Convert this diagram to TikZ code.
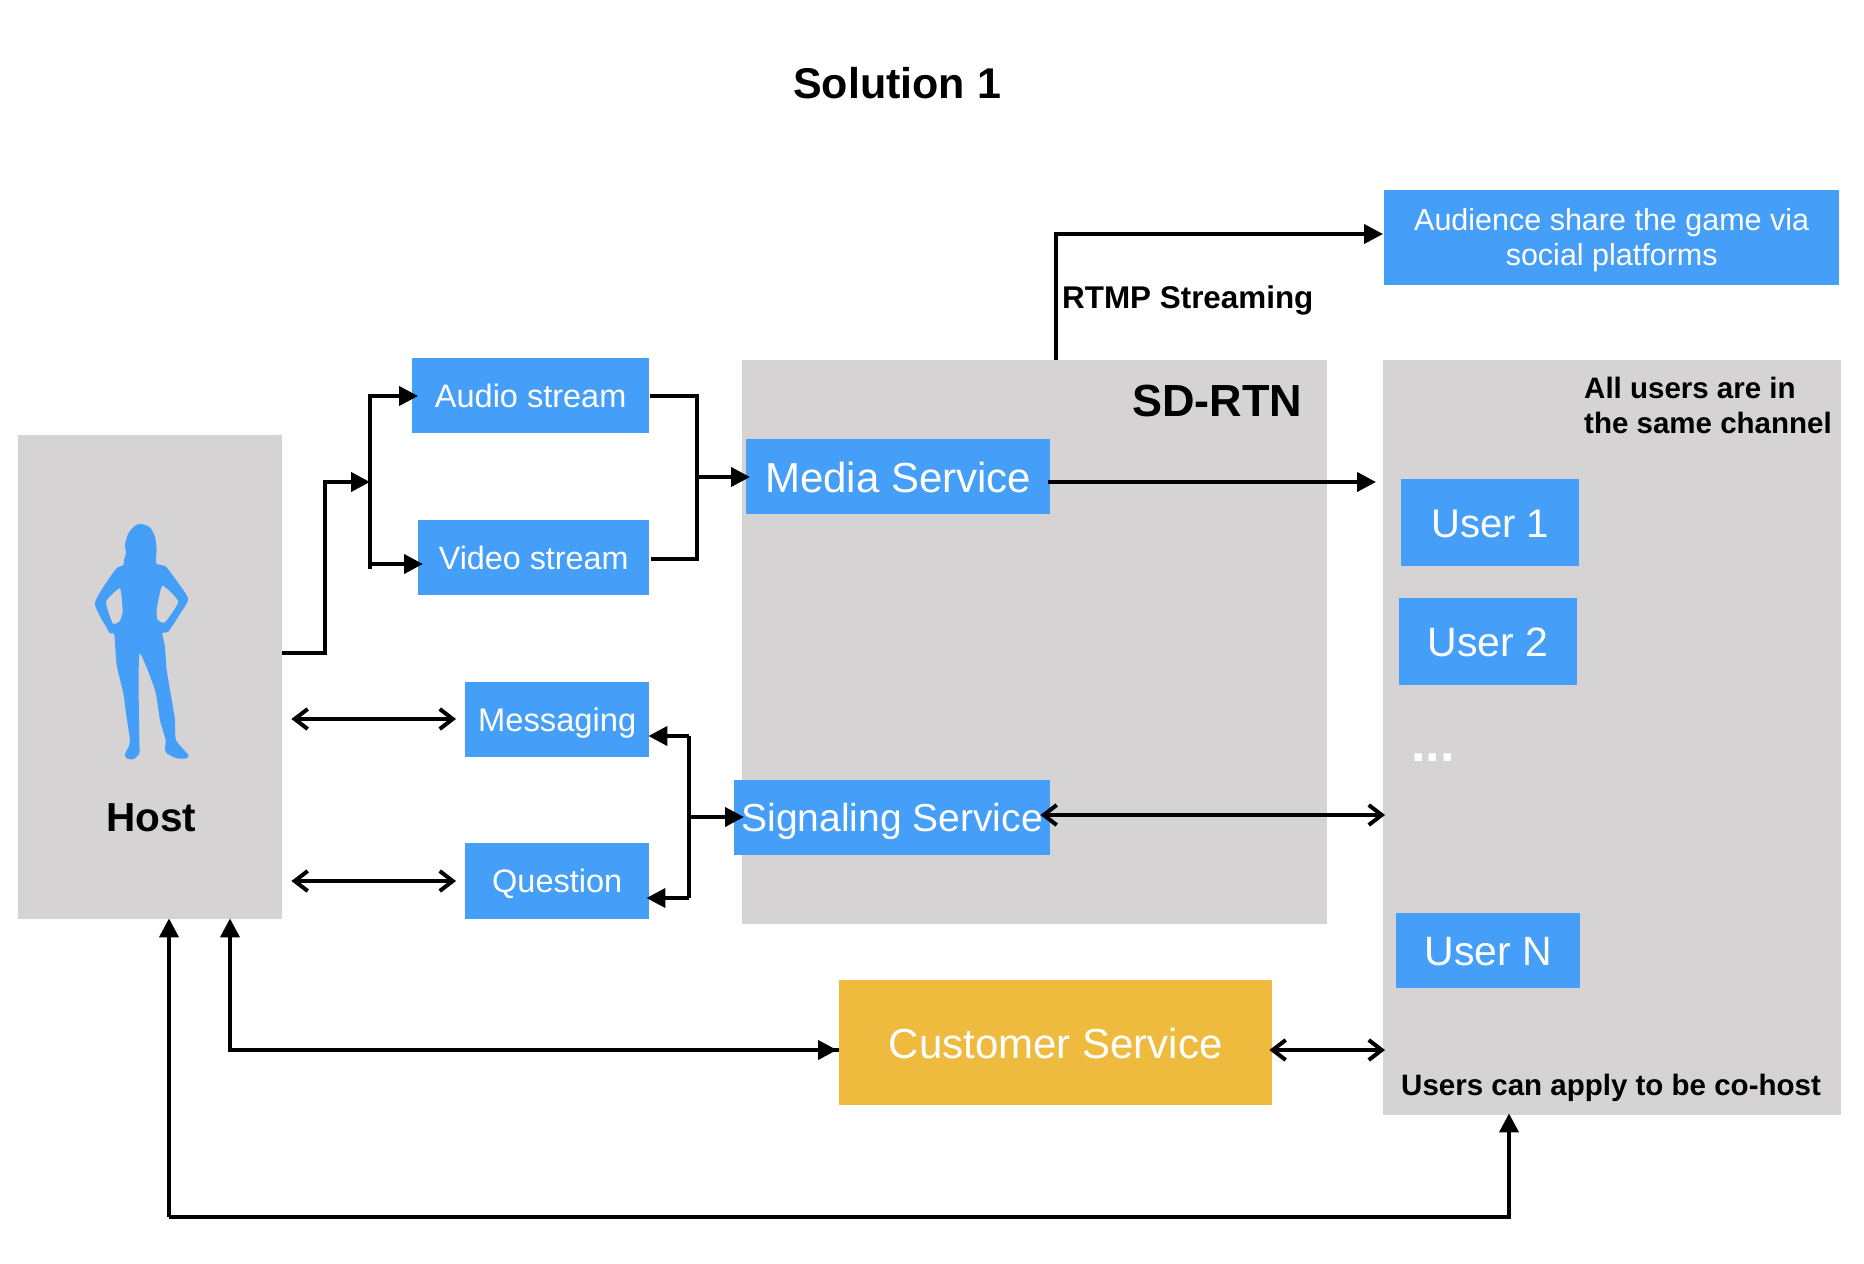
\documentclass[tikz,border=0pt]{standalone}
\usepackage{fontspec}
\setmainfont{Liberation Sans}
\usetikzlibrary{arrows.meta,calc}
\definecolor{bluebox}{HTML}{459FF9}
\definecolor{grayback}{HTML}{D5D3D4}
\definecolor{yellowbox}{HTML}{EEBB3E}
\tikzset{
  grayarea/.style={fill=grayback,draw=none,inner sep=0pt,anchor=north west},
  blue/.style={fill=bluebox,draw=none,inner sep=0pt,anchor=north west,text=white},
  sized/.style={font=\fontsize{#1}{#1}\selectfont,text height=#1*0.72pt,text depth=0pt},
  plainlabel/.style={inner sep=0pt,font=\bfseries\fontsize{#1}{#1}\selectfont,text=black,anchor=base west},
  wire/.style={line width=4pt,draw=black},
  tri/.style={wire,-{Triangle[length=19pt,width=19pt]}},
  open both/.style={wire,{Straight Barb[length=13pt,width=20pt]}-{Straight Barb[length=13pt,width=20pt]}},
}
\begin{document}
\begin{tikzpicture}[x=1pt,y=-1pt]
\useasboundingbox (0,0) rectangle (1864,1264);
\fill[white] (0,0) rectangle (1864,1264);
% grey areas
\node[grayarea,minimum width=264pt,minimum height=484pt] (host) at (18,435) {};
\node[grayarea,minimum width=585pt,minimum height=564pt] (sdrtn) at (742,360) {};
\node[grayarea,minimum width=458pt,minimum height=755pt] (users) at (1383,360) {};
% title and labels
\node[plainlabel=43] (title) at (793,98) {Solution 1};
\node[plainlabel=40.5] (hostlabel) at (106,831) {Host};
\node[plainlabel=45] (sdlabel) at (1132,416) {SD-RTN};
\node[plainlabel=31.4] (rtmplabel) at (1062,308) {RTMP Streaming};
\node[inner sep=0pt,anchor=north west,align=left,font=\bfseries\fontsize{29.5}{34.5}\selectfont] (channellabel) at (1584,377) {All users are in\\the same channel};
\node[plainlabel=29.5] (cohostlabel) at (1401,1095) {Users can apply to be co-host};
% blue boxes
\node[blue,sized=32.5,minimum width=237pt,minimum height=75pt] (audio) at (412,358) {Audio stream};
\node[blue,sized=32.3,minimum width=231pt,minimum height=75pt] (video) at (418,520) {Video stream};
\node[blue,sized=32.7,minimum width=184pt,minimum height=75pt] (messaging) at (465,682) {Messaging};
\node[blue,sized=32.5,minimum width=184pt,minimum height=76pt] (question) at (465,843) {Question};
\node[blue,sized=42,text height=32pt,minimum width=304pt,minimum height=75pt] (media) at (746,439) {Media Service};
\node[blue,sized=39,minimum width=316pt,minimum height=75pt] (signal) at (734,780) {Signaling Service};
\node[blue,fill=yellowbox,sized=42,text height=32pt,minimum width=433pt,minimum height=125pt] (customer) at (839,980) {Customer Service};
\node[blue,font=\fontsize{30.5}{35}\selectfont,align=center,minimum width=455pt,minimum height=95pt] (audience) at (1384,190) {\rule{0pt}{27pt}Audience share the game via\\social platforms};
\node[blue,sized=40,minimum width=178pt,minimum height=87pt] (user1) at (1401,479) {User 1};
\node[blue,sized=41,minimum width=178pt,minimum height=87pt] (user2) at (1399,598) {User 2};
\node[blue,sized=41,minimum width=184pt,minimum height=75pt] (usern) at (1396,913) {User N};
\node[inner sep=0pt,text=white,font=\bfseries\fontsize{52}{52}\selectfont,anchor=base west] (dots) at (1411,761) {...};
% silhouette
\begin{scope}[shift={(0,420)},x=0.3333pt,y=-0.3333pt]
\fill[bluebox,even odd rule]
 plot[smooth cycle,tension=0.35] coordinates {(425,312)(450,322)(465,350)(470,385)(468,415)(470,432)(495,438)(510,455)(560,525)(563,545)(535,590)(505,635)(487,640)(495,680)(500,750)(517,850)(525,900)(528,960)(565,1005)(560,1015)(530,1015)(500,1000)(495,985)(497,960)(480,900)(465,810)(420,700)(416,800)(418,960)(418,1000)(400,1018)(380,1015)(375,1003)(390,965)(378,880)(370,820)(350,735)(343,645)(330,640)(318,620)(285,548)(345,450)(370,435)(372,420)(378,400)(375,375)(385,340)(405,317)}
 plot[smooth cycle,tension=0.3] coordinates {(360,505)(318,545)(338,610)(358,605)(368,575)}
 plot[smooth cycle,tension=0.3] coordinates {(487,497)(470,570)(473,600)(495,607)(535,545)};
\end{scope}
% junctions
\coordinate (hostbend) at (325,482);
\coordinate (splitmid) at (370,482);
\coordinate (splittop) at (370,394);
\coordinate (splitbot) at (370,569);
\coordinate (mergetop) at (697,396);
\coordinate (mergebot) at (697,559);
\coordinate (mergemid) at (697,477);
\coordinate (sigtop) at (689,736);
\coordinate (sigbot) at (689,898);
\coordinate (sigmid) at (689,817);
\coordinate (rtmpcorner) at (1056,234);
\coordinate (cornerA) at (230,1050);
\coordinate (cornerB) at (169,1217);
\coordinate (cornerC) at (1509,1217);
% connectors
\draw[tri] (host.east |- 0,653) -| (hostbend) -- (splitmid);
\draw[wire] (splittop) -- (splitbot);
\draw[tri,shorten >=-6pt] (370,396) -- (audio.west |- 0,396);
\draw[tri,shorten >=-5pt] (370,564) -- (video.west |- 0,564);
\draw[wire] ($(audio.east |- 0,396)+(1,0)$) -| (mergetop) -- (mergebot) -- ($(video.east |- 0,559)+(2,0)$);
\draw[tri,shorten >=-4pt] (mergemid) -- (media.west |- mergemid);
\draw[open both,shorten <=9pt,shorten >=9pt] (host.east |- 0,719) -- (messaging.west |- 0,719);
\draw[open both,shorten <=9pt,shorten >=9pt] (host.east |- 0,881) -- (question.west |- 0,881);
\draw[wire] (sigbot) -- (sigtop);
\draw[tri,shorten >=-1pt] (sigtop) -- (messaging.east |- sigtop);
\draw[tri,shorten >=-3pt] (sigbot) -- (question.east |- sigbot);
\draw[tri,shorten >=-10pt] (sigmid) -- (signal.west |- sigmid);
\draw[tri,shorten >=7pt] ($(media.east |- 0,482)+(-2,0)$) -- (users.west |- 0,482);
\draw[open both,shorten <=-10pt,shorten >=-2pt] (signal.east |- 0,815) -- (users.west |- 0,815);
\draw[tri,shorten >=1pt] (sdrtn.north -| rtmpcorner) -- (rtmpcorner) -- (audience.west |- rtmpcorner);
\draw[tri,shorten >=-1pt] (customer.west |- cornerA) -- (cornerA) -- (host.south -| cornerA);
\draw[tri,shorten >=2pt] (cornerA) -- (customer.west |- cornerA);
\draw[open both,shorten <=-3pt,shorten >=-2pt] (customer.east |- 0,1050) -- (users.west |- 0,1050);
\draw[tri,shorten >=-1pt] (cornerB) -- (host.south -| cornerB);
\draw[tri,shorten >=-2pt] (cornerB) -- (cornerC) -- (users.south -| cornerC);
\end{tikzpicture}
\end{document}
